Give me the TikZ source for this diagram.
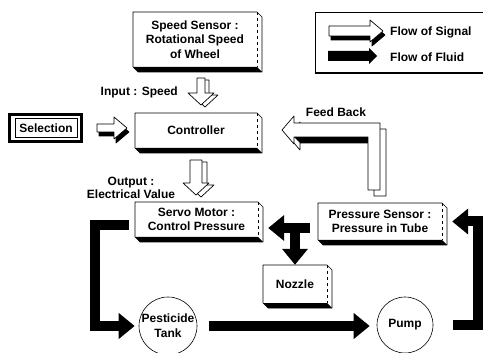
\documentclass[tikz,border=0pt]{standalone}
\usepackage{fontspec}
\setmainfont{Liberation Sans}
\usetikzlibrary{arrows.meta}
\tikzset{
 txt/.style={font=\fontsize{12}{14.5}\selectfont\bfseries, align=center, inner sep=0pt},
 lbl/.style={font=\fontsize{12}{13}\selectfont\bfseries, align=center, inner sep=0pt},
 boxline/.style={draw=black, line width=0.7pt, line join=round},
 fluid/.style={draw=black, line width=10pt, -{Triangle[width=25pt,length=16pt]}},
 sig/.style={draw=black, line width=0.7pt, fill=white, line join=round},
 sigblk/.style={draw=black, line width=0.7pt, fill=black, line join=round},
 sigwht/.style={draw=black, line width=0.7pt, fill=white, line join=round},
 circ/.style={draw=black, line width=0.6pt, circle, inner sep=0pt},
}
\newcommand\slab[6]{%
  \fill[black] (#2,#5-5) -- (#4-5,#5-5) -- (#4,#5) -- (#2+5,#5) -- cycle;
  \draw[boxline] (#2,#3) -- (#4-5,#3) -- (#4,#3+5) -- (#4,#5) -- (#2+5,#5) -- (#2,#5-5) -- cycle;
  \draw[line width=0.4pt, dashed] (#4-5,#3) -- (#4-5,#5-5);
  \node[txt, minimum width={(#4-#2-5)*1pt}, minimum height={(#5-#3-5)*1pt}] (#1) at ({(#2+#4-5)/2},{(#3+#5-5)/2}) {#6};
}
\def\inarrow{(197,78) -- (205,78) -- (205,93) -- (214,93) -- (201,105) -- (188,93) -- (197,93) -- cycle}
\def\outarrow{(190,160) -- (202,160) -- (202,183) -- (209,183) -- (196,195) -- (183,183) -- (190,183) -- cycle}
\def\selarrow{(97,124) -- (114,124) -- (114,117) -- (127,128) -- (114,139) -- (114,132) -- (97,132) -- cycle}
\def\fbarrow{(282,130) -- (294,116) -- (294,123) -- (380,123) -- (380,190) -- (368,190) -- (368,137) -- (294,137) -- (294,144) -- cycle}
\def\legarrow{(329,26) -- (370,26) -- (370,20) -- (383,31) -- (370,42) -- (370,36) -- (329,36) -- cycle}
\begin{document}
\begin{tikzpicture}[x=1pt,y=-1pt]
\useasboundingbox (0,0) rectangle (483,353);
\clip (0,0) rectangle (483,353);
\fill[white] (0,0) rectangle (483,353);

% legend
\draw[line width=0.9pt] (490,12) -- (315,12) -- (315,73);
\draw[line width=2pt] (314.5,73) -- (490,73);
\draw[sigblk, shift={(2,4)}] \legarrow;
\draw[sig] \legarrow;
\node[txt, anchor=west] (lsig) at (390,32) {Flow of Signal};
\fill[black] (328,51) -- (369,51) -- (369,48) -- (377,56) -- (369,64) -- (369,61) -- (328,61) -- cycle;
\node[txt, anchor=west] (lflu) at (390,57) {Flow of Fluid};

% boxes
\slab{speed}{133}{12}{262}{72}{Speed Sensor :\\Rotational Speed\\of Wheel}
\slab{ctrl}{135}{113}{262}{153}{Controller}
\slab{servo}{135}{202}{263}{242}{Servo Motor :\\Control Pressure}
\slab{psensor}{318}{203}{447}{245}{Pressure Sensor :\\Pressure in Tube}
\slab{nozzle}{263}{265}{332}{308}{Nozzle}

% selection
\draw[line width=3pt] (9.5,114.5) rectangle (81.5,141.5);
\draw[line width=0.6pt] (15,118.5) rectangle (77,137);
\node[txt] (sel) at (46,128) {Selection};

% signal arrows
\draw[sigwht, shift={(4,2)}] \inarrow;
\draw[sig] \inarrow;
\draw[sigwht, shift={(5,2)}] \outarrow;
\draw[sig] \outarrow;
\draw[sigblk, shift={(2,4)}] \selarrow;
\draw[sig] \selarrow;
\draw[sigwht, shift={(6,6)}] \fbarrow;
\fill[black] (294,137) -- (368,137) -- (374,143) -- (300,143) -- cycle;
\draw[sig] \fbarrow;

% labels
\node[lbl, anchor=east] (lin) at (178,92) {Input : Speed};
\node[lbl] (lout) at (131,188) {Output :\\Electrical Value};
\node[lbl] (lfb) at (336,112) {Feed Back};

% circles
\node[circ, minimum size=58pt, font=\fontsize{12}{15}\selectfont\bfseries, align=center] (tank) at (168,326) {Pesticide\\Tank};
\node[circ, minimum size=56pt, font=\fontsize{12}{15}\selectfont\bfseries] (pump) at (405,325) {Pump};

% fluid arrows
\draw[fluid] ([xshift=-6pt,yshift=-6pt]servo.west) -- ++(-34,0) |- ([xshift=-4pt]tank.west);
\path (tank.east) ++(12,0) coordinate (ta);
\path (pump.west) ++(-7,0) coordinate (pa);
\draw[fluid] (ta) -- (ta -| pa);
\path (pump.east) ++(20,0) coordinate (pb);
\path (psensor.east) ++(10,0) coordinate (pc);
\draw[fluid] (pb) -- ++(25,0) |- (pc);
\coordinate (tj) at (310,228);
\path (servo.east) ++(10,0) coordinate (sv);
\draw[fluid] (tj) -- (sv |- tj);
\draw[fluid] (nozzle.north |- tj) -- (nozzle.north);
\end{tikzpicture}
\end{document}
